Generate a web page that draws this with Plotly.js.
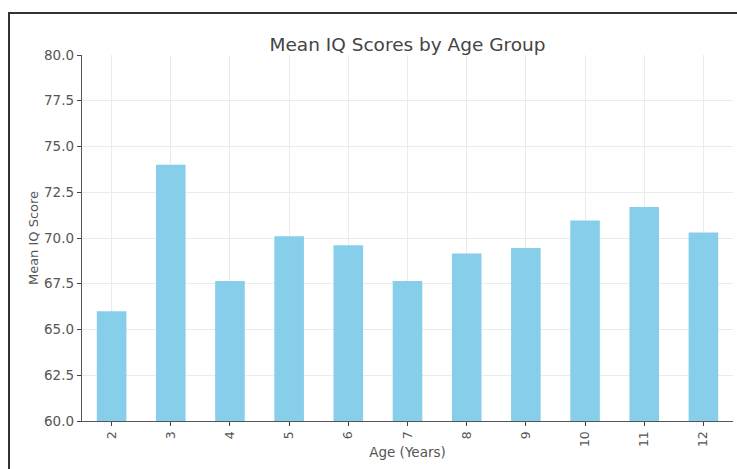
<!DOCTYPE html>
<html>
<head>
<meta charset="utf-8">
<script src="https://cdn.plot.ly/plotly-3.0.1.min.js"></script>
<style>
  html, body { margin: 0; padding: 0; background: #fff; overflow: hidden; }
  #chart { width: 737px; height: 469px; }
</style>
</head>
<body>
<div id="chart"></div>
<script>
const ages = ['2', '3', '4', '5', '6', '7', '8', '9', '10', '11', '12'];
const meanIQ = [66.0, 74.0, 67.65, 70.1, 69.6, 67.65, 69.15, 69.45, 70.95, 71.7, 70.3];
const yTickVals = [60, 62.5, 65, 67.5, 70, 72.5, 75, 77.5, 80];

const trace = {
  type: 'bar',
  x: ages,
  y: meanIQ,
  width: 0.5,
  marker: { color: '#87CEEB' },
  hoverinfo: 'x+y'
};

// outer picture frame (top and left edges), in paper units relative to the plot area
const W = 737, H = 469, mL = 82, mR = 4, mT = 55, mB = 48;
const pw = W - mL - mR, ph = H - mT - mB;
const px = v => (v - mL) / pw;
const py = v => (H - mB - v) / ph;

const layout = {
  width: W,
  height: H,
  margin: { l: mL, r: mR, t: mT, b: mB },
  paper_bgcolor: '#ffffff',
  plot_bgcolor: '#ffffff',
  font: { family: 'DejaVu Sans, sans-serif', color: '#555' },
  showlegend: false,
  title: {
    text: 'Mean IQ Scores by Age Group',
    font: { family: 'DejaVu Sans, sans-serif', size: 18.5, color: '#444' },
    x: 0.553, xanchor: 'center',
    y: 0.906, yanchor: 'middle'
  },
  xaxis: {
    type: 'category',
    range: [-0.5, 10.5],
    tickangle: -90,
    ticks: 'outside', ticklen: 4, tickcolor: '#444',
    tickfont: { size: 12.5, color: '#555' },
    showline: true, linecolor: '#555', linewidth: 1.2,
    showgrid: true, gridcolor: '#ebebeb', gridwidth: 1,
    title: { text: 'Age (Years)', font: { size: 13.5, color: '#555' }, standoff: 1 }
  },
  yaxis: {
    range: [60, 80],
    tickvals: yTickVals,
    tickformat: '.1f',
    ticks: 'outside', ticklen: 4, tickcolor: '#444',
    tickfont: { size: 13.5, color: '#555' },
    showline: true, linecolor: '#555', linewidth: 1.2,
    showgrid: true, gridcolor: '#ebebeb', gridwidth: 1,
    zeroline: false,
    title: { text: 'Mean IQ Score', font: { size: 13, color: '#555' }, standoff: 2 }
  },
  shapes: [
    { type: 'line', xref: 'paper', yref: 'paper', x0: px(8), x1: px(745), y0: py(13), y1: py(13),
      line: { color: '#333', width: 2 } },
    { type: 'line', xref: 'paper', yref: 'paper', x0: px(9), x1: px(9), y0: py(12), y1: py(475),
      line: { color: '#333', width: 2 } }
  ]
};

Plotly.newPlot('chart', [trace], layout, { displayModeBar: false, staticPlot: true });
</script>
</body>
</html>
